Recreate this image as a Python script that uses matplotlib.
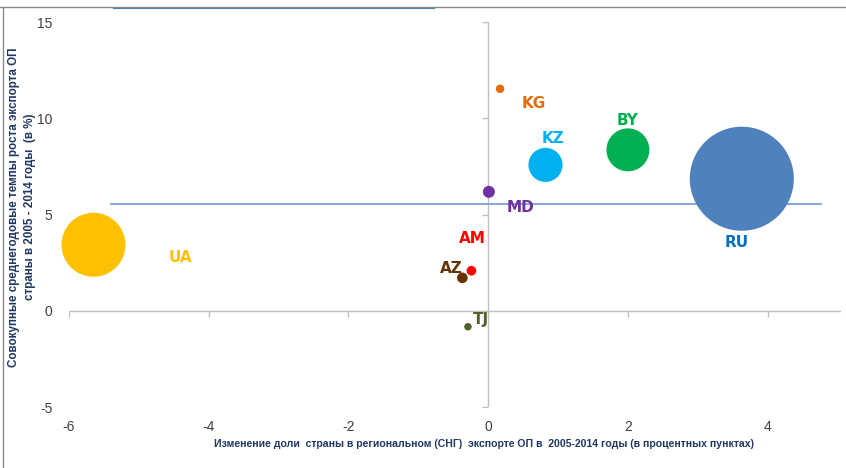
import numpy as np
import matplotlib.pyplot as plt
from matplotlib.lines import Line2D

# share change (p.p.), growth rate (%), bubble value (export volume, rel.)
countries = ['UA', 'KG', 'KZ', 'BY', 'RU', 'MD', 'AM', 'AZ', 'TJ']
share_change = [-5.65, 0.17, 0.82, 2.0, 3.63, 0.01, -0.24, -0.37, -0.29]
growth = [3.43, 11.53, 7.58, 8.36, 6.86, 6.18, 2.08, 1.71, -0.83]
volume = [10.2, 0.18, 2.9, 4.6, 27.0, 0.36, 0.23, 0.28, 0.14]
avg_growth = 5.56
avg_line_x = [-5.4, 4.77]

colors = ['#FFC000', '#E46C0A', '#00B0F0', '#00B050', '#4F81BD',
          '#7030A0', '#FF0000', '#663300', '#4F6228']
label_colors = ['#FFC000', '#E46C0A', '#00B0F0', '#00B050', '#0070C0',
                '#7030A0', '#FF0000', '#663300', '#4F6228']
# label offsets from bubble centre (data units)
offsets = [(1.24, -0.68), (0.48, -0.78), (0.11, 1.36), (0.0, 1.5), (-0.07, -3.33),
           (0.45, -0.83), (0.02, 1.66), (-0.16, 0.47), (0.19, 0.36)]

plt.rcParams['axes.unicode_minus'] = False
sans = ['Liberation Sans', 'DejaVu Sans']

fig = plt.figure(figsize=(8.46, 4.68), dpi=100)
ax = fig.add_axes([0.0816, 0.1303, 0.9125, 0.8226])

axis_col = '#BFBFBF'
ax.set_xlim(-6, 5.05)
ax.set_ylim(-5, 15)
for s in ax.spines.values():
    s.set_visible(False)
ax.axhline(0, color=axis_col, lw=1, zorder=1)
ax.axvline(0, color=axis_col, lw=1, zorder=1)

xt = [-6, -4, -2, 0, 2, 4]
yt = [-5, 0, 5, 10, 15]
ax.set_xticks(xt)
ax.set_yticks(yt)
ax.tick_params(length=0, labelsize=10, labelcolor='#404040')
ax.tick_params(axis='x', pad=9)
ax.tick_params(axis='y', pad=12)
for lab in ax.get_xticklabels() + ax.get_yticklabels():
    lab.set_family(sans)
# small tick marks on the zero axes
ax.plot(xt, np.zeros(len(xt)), ls='none', marker=3, ms=4, color=axis_col, zorder=1)
ax.plot(np.zeros(len(yt)), yt, ls='none', marker=0, ms=4, color=axis_col, zorder=1)

# average growth line
ax.plot(avg_line_x, [avg_growth, avg_growth], color='#7BA3D6', lw=1.3, zorder=2)

sizes = np.array(volume) * 208
ax.scatter(share_change, growth, s=sizes, c=colors, zorder=3, linewidths=0,
           clip_on=False)

for i, c in enumerate(countries):
    dx, dy = offsets[i]
    ax.text(share_change[i] + dx, growth[i] + dy, c, color=label_colors[i],
            fontsize=11, fontweight='bold', ha='center', va='center', zorder=4)

title_col = '#1F3864'
fig.text(484 / 846, 1 - 444 / 468,
         'Изменение доли  страны в региональном (СНГ)  экспорте ОП в  2005-2014 годы (в процентных пунктах)',
         ha='center', va='center', fontsize=7.6, fontweight='bold', color=title_col,
         family=sans)
fig.text(22 / 846, 1 - 207 / 468,
         'Совокупные среднегодовые темпы роста экспорта ОП\nстраны в 2005 - 2014 годы  (в %)',
         ha='center', va='center', rotation=90, fontsize=8.4, fontweight='bold',
         color=title_col, linespacing=1.5, family=sans)

# outer frame lines
fig.add_artist(Line2D([0, 1], [1 - 7 / 468, 1 - 7 / 468], color='#8C8C8C', lw=1))
fig.add_artist(Line2D([2.5 / 846, 2.5 / 846], [0, 1 - 7 / 468], color='#8C8C8C', lw=1))
fig.add_artist(Line2D([113 / 846, 434 / 846], [1 - 8 / 468, 1 - 8 / 468], color='#4F81BD', lw=0.8))

fig.savefig('out.png', dpi=100)
